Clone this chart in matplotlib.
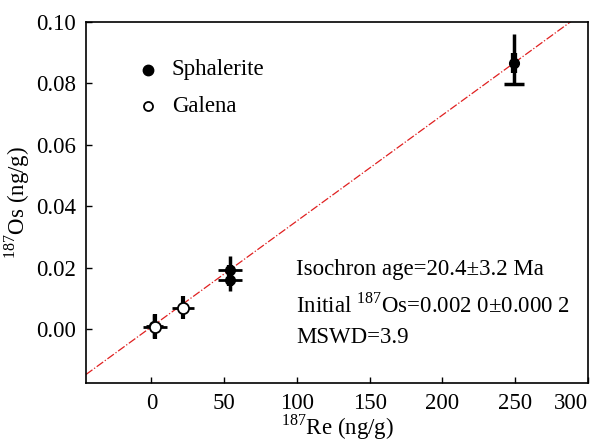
import matplotlib
matplotlib.use("Agg")
import matplotlib.pyplot as plt

# ── Data ──────────────────────────────────────────────────
sph_re   = [2.0, 54.0, 54.0, 249.0]
sph_os   = [0.0010, 0.0192, 0.0158, 0.0868]
sph_xerr = [6.0, 8.0, 8.0, 0.0]
sph_ylo  = [0.0040, 0.0040, 0.0033, 0.0070]
sph_yhi  = [0.0040, 0.0045, 0.0035, 0.0093]

gal_re   = [2.5, 21.5]
gal_os   = [0.0008, 0.0069]
gal_xerr = [8.0, 7.5]
gal_yerr = [0.0042, 0.0037]

iso_slope = 3.45e-4
iso_init  = 0.0007
iso_x     = [-45, 300]

xticks = [0, 50, 100, 150, 200, 250, 300]
yticks = [0.00, 0.02, 0.04, 0.06, 0.08, 0.10]

# ── Style ─────────────────────────────────────────────────
plt.rcParams["font.family"] = ["Liberation Serif", "DejaVu Serif"]
plt.rcParams["mathtext.fontset"] = "custom"
plt.rcParams["mathtext.rm"] = "Liberation Serif"
FS = 16.5

fig = plt.figure(figsize=(5.92, 4.41), dpi=100)
ax = fig.add_axes([86/592, 1 - 383/441, 502/592, 361/441])

# isochron
ax.plot(iso_x, [iso_init + iso_slope * x for x in iso_x],
        color="#e02020", ls="-.", lw=0.9, zorder=1)

# sphalerite
ax.errorbar(sph_re, sph_os, xerr=sph_xerr, fmt="none",
            ecolor="black", elinewidth=2.0, zorder=2)
ax.errorbar(sph_re, sph_os, yerr=[sph_ylo, sph_yhi], fmt="none",
            ecolor="black", elinewidth=2.5, zorder=2)
ax.errorbar(sph_re, sph_os, yerr=[[v * 0.5 for v in sph_ylo],
                                  [v * 0.35 for v in sph_yhi]],
            fmt="none", ecolor="black", elinewidth=4.5, zorder=2)
ax.plot(sph_re[-1], sph_os[-1] - sph_ylo[-1], marker="_", ms=14,
        mew=2.5, color="black", zorder=2)
ax.plot(sph_re, sph_os, "o", color="black", ms=7, zorder=3)

# galena
ax.errorbar(gal_re, gal_os, xerr=gal_xerr, fmt="none",
            ecolor="black", elinewidth=2.0, zorder=2)
ax.errorbar(gal_re, gal_os, yerr=gal_yerr, fmt="none",
            ecolor="black", elinewidth=3.0, zorder=2)
ax.plot(gal_re, gal_os, "o", mfc="white", mec="black", mew=1.3,
        ms=8, zorder=4)

ax.set_xlim(-45, 300)
ax.set_ylim(-0.0176, 0.10)
ax.set_xticks(xticks)
ax.set_yticks(yticks)
ax.set_yticklabels([f"{v:.2f}" for v in yticks])
ax.tick_params(direction="in", length=4, width=1, labelsize=FS, pad=7)
xl = ax.get_xticklabels()
xl[-1].set_horizontalalignment("right")
for s in ax.spines.values():
    s.set_linewidth(1.2)

ax.set_xlabel(r"$^{187}$Re (ng/g)", fontsize=FS, labelpad=-1)
ax.set_ylabel(r"$^{187}$Os (ng/g)", fontsize=FS, labelpad=3)

# legend (drawn by hand)
ax.plot(-2.5, 0.0844, "o", color="black", ms=7.5)
ax.text(14, 0.0844, "Sphalerite", fontsize=FS, va="center")
ax.plot(-2.5, 0.0726, "o", mfc="white", mec="black", mew=1.3, ms=6.5)
ax.text(14, 0.0726, "Galena", fontsize=FS, va="center")

ax.text(99.5, 0.0193, "Isochron age=20.4\u00b13.2 Ma", fontsize=FS, va="center")
ax.text(99.5, 0.0078, r"Initial $^{187}$Os=0.002 0$\pm$0.000 2",
        fontsize=FS, va="center")
ax.text(99.5, -0.0029, "MSWD=3.9", fontsize=FS, va="center")

fig.savefig("out.png", dpi=100)
